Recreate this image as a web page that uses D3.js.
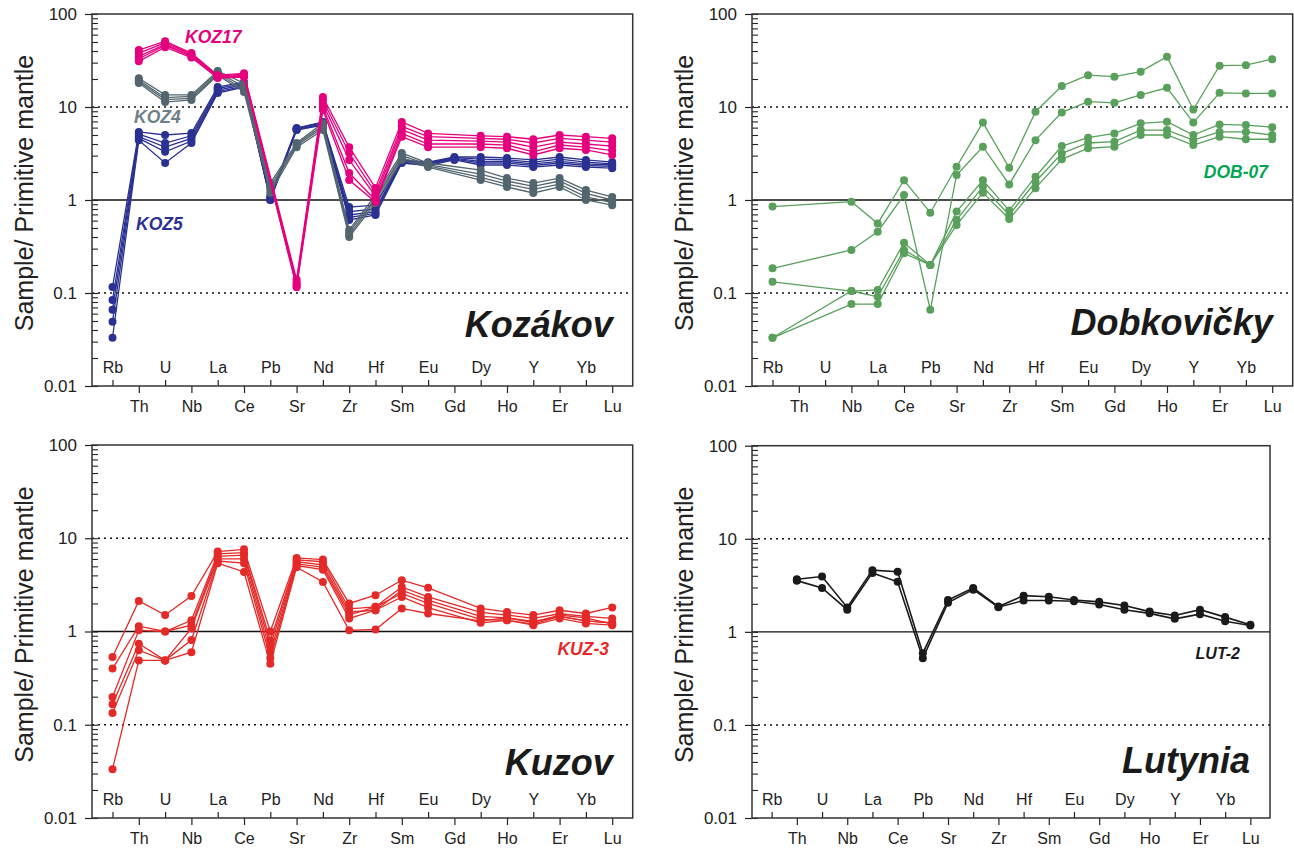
<!DOCTYPE html>
<html>
<head>
<meta charset="utf-8">
<script src="https://cdn.jsdelivr.net/npm/d3@7"></script>
<style>
  body { margin: 0; background: #fff; }
  svg text { font-family: "Liberation Sans", Arial, Helvetica, sans-serif; }
</style>
</head>
<body>
<div id="d3-container"></div>
<script>

const elements = ["Rb", "Th", "U", "Nb", "La", "Ce", "Pb", "Sr", "Nd", "Zr",
                  "Hf", "Sm", "Eu", "Gd", "Dy", "Ho", "Y", "Er", "Yb", "Lu"];
const yTicks = [0.01, 0.1, 1, 10, 100];
const yTickLabels = ["0.01", "0.1", "1", "10", "100"];

// Kozákov - one row per sample, columns follow `elements`, null = not analysed
const koz5 = [
  [0.116, 5.4, 5.0, 5.25, 16.4, 18.6, 1.1, 5.95, 6.9, 0.84, 0.88, 2.7, 2.55, 2.9, 2.9, 2.83, 2.7, 2.9, 2.7, 2.56],
  [0.084, 5.1, 4.1, 4.9, 15.8, 18.0, 1.05, 5.85, 6.8, 0.75, 0.8, 2.65, 2.5, 2.85, 2.75, 2.7, 2.55, 2.75, 2.55, 2.45],
  [0.066, 4.8, 3.7, 4.6, 15.2, 17.3, 1.02, 5.8, 6.6, 0.69, 0.75, 2.6, 2.45, 2.8, 2.6, 2.6, 2.45, 2.6, 2.45, 2.38],
  [0.049, 4.6, 3.3, 4.3, 14.6, 16.8, 1.0, 5.7, 6.5, 0.65, 0.72, 2.55, 2.4, 2.75, 2.5, 2.5, 2.35, 2.5, 2.35, 2.3],
  [0.033, 4.4, 2.5, 4.1, 14.1, 16.4, 1.0, 5.65, 6.4, 0.61, 0.69, 2.5, 2.35, 2.7, 2.38, 2.38, 2.26, 2.38, 2.26, 2.2]
];
const koz4 = [
  [null, 20.4, 13.5, 13.5, 24.4, 18.0, 1.52, 4.1, 6.7, 0.476, 1.13, 3.2, 2.5, null, 2.1, 1.72, 1.52, 1.72, 1.28, 1.08],
  [null, 19.5, 12.6, 13.0, 23.5, 16.5, 1.4, 4.0, 6.3, 0.45, 1.05, 3.0, 2.4, null, 1.9, 1.6, 1.4, 1.6, 1.18, 1.0],
  [null, 18.8, 12.0, 12.4, 22.8, 15.5, 1.3, 3.85, 6.0, 0.42, 1.0, 2.85, 2.33, null, 1.75, 1.48, 1.3, 1.48, 1.08, 0.94],
  [null, 18.1, 11.3, 11.9, 22.0, 14.5, 1.19, 3.7, 5.65, 0.40, 0.93, 2.7, 2.26, null, 1.64, 1.38, 1.19, 1.38, 1.0, 0.88]
];
const koz17 = [
  [null, 41, 51, 38, 22, 23, null, 0.14, 12.8, 3.7, 1.35, 6.9, 5.2, null, 4.9, 4.8, 4.5, 5.0, 4.8, 4.6],
  [null, 38, 49, 37, 21.5, 22.5, null, 0.13, 11.8, 3.2, 1.2, 6.2, 4.8, null, 4.6, 4.5, 4.1, 4.6, 4.4, 4.2],
  [null, 35, 47, 36, 21, 22, null, 0.125, 10.8, 2.7, 1.1, 5.7, 4.4, null, 4.3, 4.2, 3.7, 4.2, 4.0, 3.8],
  [null, 33, 46, 35, 20.8, 21.5, null, 0.12, 10, 1.95, 1.0, 5.2, 4.0, null, 4.0, 3.9, 3.3, 3.9, 3.7, 3.4],
  [null, 31, 44, 34, 20.5, 21, null, 0.115, 9.3, 1.64, 0.95, 4.8, 3.7, null, 3.7, 3.6, 3.05, 3.6, 3.45, 3.05]
];

// Dobkovičky
const dob07 = [
  [0.85, null, null, 0.96, 0.56, 1.63, 0.73, 2.28, 6.8, 2.22, 8.9, 16.8, 22, 21.2, 24, 34.8, 9.4, 27.8, 28.2, 32.7],
  [0.184, null, null, 0.29, 0.456, 1.13, 0.066, 1.86, 3.74, 1.47, 4.4, 8.75, 11.4, 11.1, 13.5, 16.1, 6.8, 14.2, 14, 14],
  [0.132, null, null, 0.105, 0.108, 0.347, 0.2, 0.75, 1.63, 0.77, 1.78, 3.8, 4.68, 5.2, 6.67, 6.95, 5.0, 6.5, 6.4, 6.06],
  [0.033, null, null, 0.105, 0.091, 0.29, 0.2, 0.61, 1.39, 0.69, 1.57, 3.17, 4.1, 4.24, 5.65, 5.65, 4.4, 5.4, 5.4, 5.0],
  [0.033, null, null, 0.076, 0.076, 0.267, 0.2, 0.54, 1.2, 0.625, 1.34, 2.74, 3.6, 3.74, 5.0, 5.0, 3.9, 4.8, 4.5, 4.5]
];

// Kuzov
const kuz3 = [
  [0.534, 2.13, 1.5, 2.4, 7.2, 7.6, 1.0, 6.15, 5.9, 2.0, 2.45, 3.55, 2.94, null, 1.77, 1.62, 1.5, 1.69, 1.56, 1.81],
  [0.40, 1.14, 1.0, 1.32, 6.8, 7.0, 0.8, 5.85, 5.6, 1.75, 1.84, 3.0, 2.35, null, 1.6, 1.5, 1.38, 1.55, 1.45, 1.38],
  [0.198, 1.03, 1.0, 1.17, 6.4, 6.6, 0.7, 5.6, 5.2, 1.62, 1.69, 2.77, 2.17, null, 1.45, 1.4, 1.28, 1.45, 1.3, 1.24],
  [0.166, 0.74, 0.49, 1.08, 6.0, 6.0, 0.6, 5.3, 4.9, 1.5, 1.84, 2.56, 2.0, null, 1.35, 1.32, 1.17, 1.38, 1.22, 1.17],
  [0.134, 0.63, 0.49, 0.81, 5.7, 5.4, 0.52, 5.1, 4.6, 1.38, 1.69, 2.35, 1.8, null, 1.24, 1.32, 1.2, 1.45, 1.3, 1.24],
  [0.0334, 0.49, 0.49, 0.60, 5.4, 4.35, 0.45, 4.9, 3.4, 1.03, 1.05, 1.77, 1.56, null, 1.3, 1.4, 1.25, 1.5, 1.4, 1.2]
];

// Lutynia
const lut2 = [
  [null, 3.68, 3.93, 1.83, 4.6, 4.43, 0.59, 2.2, 2.96, 1.87, 2.45, 2.38, 2.2, 2.1, 1.92, 1.65, 1.5, 1.73, 1.44, 1.19],
  [null, 3.55, 2.96, 1.73, 4.3, 3.45, 0.52, 2.06, 2.84, 1.84, 2.17, 2.17, 2.13, 1.97, 1.73, 1.58, 1.38, 1.55, 1.3, 1.17]
];

const svg = d3.select("#d3-container")
    .append("svg")
    .attr("width", 1294)
    .attr("height", 849);

function drawPanel(p) {
    const width = p.right - p.left;
    const height = p.bottom - p.top;

    const g = svg.append("g")
        .attr("transform", "translate(" + p.left + "," + p.top + ")");

    const xScale = d3.scalePoint()
        .domain(elements)
        .range([0, width])
        .padding(0.78);

    const yScale = d3.scaleLog()
        .domain([0.01, 100])
        .range([height, 0]);

    // reference lines: 10 and 0.1 dotted, 1 solid
    g.selectAll(".dotline")
        .data([10, 0.1])
        .enter()
        .append("line")
        .attr("x1", 0).attr("x2", width)
        .attr("y1", d => yScale(d)).attr("y2", d => yScale(d))
        .attr("stroke", "#111")
        .attr("stroke-width", 1.4)
        .attr("stroke-dasharray", "2,4");

    g.append("line")
        .attr("x1", 0).attr("x2", width)
        .attr("y1", yScale(1)).attr("y2", yScale(1))
        .attr("stroke", "#111")
        .attr("stroke-width", 1.3);

    // y axis: majors outward with labels, minors inward
    const yAxis = d3.axisLeft(yScale)
        .tickValues(yTicks)
        .tickSizeInner(7)
        .tickSizeOuter(0)
        .tickPadding(8)
        .tickFormat((d, i) => yTickLabels[i]);

    const ya = g.append("g").attr("class", "axis y-axis").call(yAxis);
    ya.select(".domain").remove();
    ya.selectAll("text").attr("font-size", 17).attr("fill", "#222");
    ya.selectAll("line").attr("stroke", "#222").attr("stroke-width", 1.2);

    const minors = [];
    [0.01, 0.1, 1, 10].forEach(dec => {
        for (let m = 2; m <= 9; m++) minors.push(dec * m);
    });
    const yMinor = d3.axisRight(yScale)
        .tickValues(minors.concat(yTicks))
        .tickSize(6)
        .tickFormat("");
    const ym = g.append("g").call(yMinor);
    ym.select(".domain").remove();
    ym.selectAll("line").attr("stroke", "#222").attr("stroke-width", 1.1);

    // x axis: even elements labelled above the axis, odd ones below
    const upper = elements.filter((d, i) => i % 2 === 0);
    const lower = elements.filter((d, i) => i % 2 === 1);

    const xTop = g.append("g")
        .attr("transform", "translate(0," + height + ")")
        .call(d3.axisTop(xScale).tickValues(upper).tickSize(6).tickPadding(7));
    const xBot = g.append("g")
        .attr("transform", "translate(0," + height + ")")
        .call(d3.axisBottom(xScale).tickValues(lower).tickSize(7).tickPadding(8));
    [xTop, xBot].forEach(a => {
        a.select(".domain").remove();
        a.selectAll("text").attr("font-size", 16).attr("fill", "#222");
        a.selectAll("line").attr("stroke", "#222").attr("stroke-width", 1.2);
    });

    // frame
    g.append("rect")
        .attr("x", 0).attr("y", 0)
        .attr("width", width).attr("height", height)
        .attr("fill", "none")
        .attr("stroke", "#333")
        .attr("stroke-width", 1.5);

    // y label
    g.append("text")
        .attr("transform", "translate(-59," + (height / 2 - 7) + ") rotate(-90)")
        .attr("text-anchor", "middle")
        .attr("font-size", 25)
        .attr("fill", "#222")
        .text("Sample/ Primitive mantle");

    // sample series
    const line = d3.line()
        .x(d => xScale(d.el))
        .y(d => yScale(d.v));

    p.groups.forEach(grp => {
        grp.rows.forEach(row => {
            const pts = row.map((v, i) => ({ el: elements[i], v: v }))
                .filter(d => d.v != null);
            const s = g.append("g");
            s.append("path")
                .datum(pts)
                .attr("d", line)
                .attr("fill", "none")
                .attr("stroke", grp.color)
                .attr("stroke-width", grp.lw || 1.3);
            s.selectAll("circle")
                .data(pts)
                .enter()
                .append("circle")
                .attr("cx", d => xScale(d.el))
                .attr("cy", d => yScale(d.v))
                .attr("r", 4)
                .attr("fill", grp.color);
        });
    });

    // sample labels
    p.labels.forEach(l => {
        g.append("text")
            .attr("x", l.x).attr("y", l.y)
            .attr("text-anchor", l.anchor || "start")
            .attr("font-size", l.size || 17.5)
            .attr("font-weight", "bold")
            .attr("font-style", "italic")
            .attr("fill", l.color)
            .text(l.text);
    });

    // locality title
    g.append("text")
        .attr("x", width - 20)
        .attr("y", height - p.titleOffset)
        .attr("text-anchor", "end")
        .attr("font-size", 36)
        .attr("font-weight", "bold")
        .attr("font-style", "italic")
        .attr("fill", "#1a1a1a")
        .text(p.title);
}

drawPanel({
    left: 92, top: 14, right: 632.7, bottom: 386,
    title: "Kozákov", titleOffset: 49,
    groups: [
        { rows: koz5, color: "#2b3192" },
        { rows: koz4, color: "#53666f" },
        { rows: koz17, color: "#e5007e" }
    ],
    labels: [
        { text: "KOZ17", x: 93, y: 29, color: "#e5007e" },
        { text: "KOZ4", x: 42, y: 109, color: "#6d8088" },
        { text: "KOZ5", x: 44, y: 216, color: "#2b3192" }
    ]
});

drawPanel({
    left: 752, top: 14, right: 1292.7, bottom: 386,
    title: "Dobkovičky", titleOffset: 51,
    groups: [
        { rows: dob07, color: "#58a05b" }
    ],
    labels: [
        { text: "DOB-07", x: 516, y: 164, anchor: "end", color: "#00a651" }
    ]
});

drawPanel({
    left: 92, top: 445, right: 632.7, bottom: 818,
    title: "Kuzov", titleOffset: 43,
    groups: [
        { rows: kuz3, color: "#e42a28" }
    ],
    labels: [
        { text: "KUZ-3", x: 517, y: 210, anchor: "end", color: "#e42a28" }
    ]
});

drawPanel({
    left: 752, top: 445.7, right: 1270, bottom: 818,
    title: "Lutynia", titleOffset: 45,
    groups: [
        { rows: lut2, color: "#1a1a1a", lw: 1.6 }
    ],
    labels: [
        { text: "LUT-2", x: 488, y: 213, anchor: "end", size: 16, color: "#1a1a1a" }
    ]
});

</script>
</body>
</html>
